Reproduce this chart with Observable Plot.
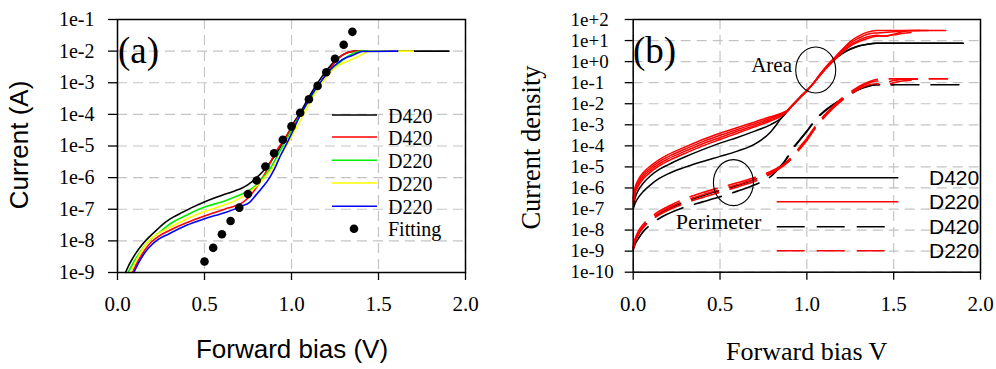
<!DOCTYPE html>
<html>
<head>
<meta charset="utf-8">
<script src="https://cdn.jsdelivr.net/npm/d3@7"></script>
<script src="https://cdn.jsdelivr.net/npm/@observablehq/plot@0.6"></script>
<style>
  body { margin: 0; background: #fff; }
  #wrap { position: relative; width: 996px; height: 369px; overflow: hidden; background: #fff; }
</style>
</head>
<body>
<div id="wrap"></div>
<script>
// ---------------- Tick labels ----------------
const xTickLabels = ["0.0", "0.5", "1.0", "1.5", "2.0"];
const yTickLabelsA = ["1e-9", "1e-8", "1e-7", "1e-6", "1e-5", "1e-4", "1e-3", "1e-2", "1e-1"];
const yTickLabelsB = ["1e-10", "1e-9", "1e-8", "1e-7", "1e-6", "1e-5", "1e-4", "1e-3", "1e-2", "1e-1", "1e+0", "1e+1", "1e+2"];

// ---------------- Panel (a): forward bias (V) vs log10 current (A) ----------------
const aNames = ["D420", "D420", "D220", "D220", "D220"];
const aBlackV = [0.046, 0.07, 0.103, 0.14, 0.18, 0.23, 0.276, 0.32, 0.372, 0.43, 0.496, 0.56, 0.62, 0.68, 0.716, 0.75, 0.774, 0.80, 0.83, 0.86, 0.889, 0.92, 0.95, 0.985, 1.02, 1.05, 1.1, 1.157, 1.214, 1.272, 1.32, 1.36, 1.4, 1.905];
const aBlackLogI = [-9, -8.72, -8.41, -8.13, -7.89, -7.63, -7.41, -7.25, -7.10, -6.94, -6.78, -6.64, -6.52, -6.41, -6.33, -6.22, -6.13, -6.0, -5.84, -5.65, -5.43, -5.18, -4.9, -4.55, -4.2, -3.95, -3.45, -2.95, -2.53, -2.2, -2.05, -2.0, -2.0, -2.0];
const aRedV = [0.086, 0.11, 0.14, 0.18, 0.23, 0.295, 0.4, 0.496, 0.56, 0.62, 0.678, 0.72, 0.755, 0.79, 0.82, 0.85, 0.87, 0.9, 0.95, 1.0, 1.05, 1.1, 1.15, 1.2, 1.25, 1.3, 1.34, 1.38, 1.5];
const aRedLogI = [-9, -8.72, -8.43, -8.12, -7.88, -7.68, -7.42, -7.22, -7.1, -6.99, -6.89, -6.78, -6.62, -6.38, -6.12, -5.85, -5.62, -5.28, -4.86, -4.43, -4.0, -3.57, -3.15, -2.73, -2.35, -2.1, -2.02, -2.0, -2.0];
const aGreenV = [0.061, 0.09, 0.123, 0.16, 0.2, 0.25, 0.295, 0.4, 0.496, 0.56, 0.62, 0.68, 0.736, 0.77, 0.8, 0.83, 0.87, 0.91, 0.95, 1.0, 1.05, 1.1, 1.15, 1.2, 1.25, 1.3, 1.35, 1.4, 1.55];
const aGreenLogI = [-9, -8.7, -8.41, -8.13, -7.91, -7.69, -7.49, -7.18, -6.94, -6.83, -6.73, -6.6, -6.46, -6.35, -6.22, -6.03, -5.78, -5.4, -5.0, -4.5, -4.02, -3.58, -3.17, -2.8, -2.5, -2.25, -2.08, -2.0, -2.0];
const aYellowV = [0.075, 0.1, 0.13, 0.18, 0.23, 0.295, 0.4, 0.496, 0.56, 0.62, 0.68, 0.755, 0.8, 0.83, 0.86, 0.889, 0.92, 0.96, 1.0, 1.05, 1.1, 1.15, 1.2, 1.253, 1.3, 1.33, 1.38, 1.425, 1.46, 1.70];
const aYellowLogI = [-9, -8.7, -8.4, -8.0, -7.78, -7.59, -7.3, -7.08, -6.96, -6.85, -6.72, -6.46, -6.27, -6.1, -5.9, -5.72, -5.45, -5.1, -4.72, -4.2, -3.68, -3.2, -2.82, -2.51, -2.37, -2.30, -2.18, -2.05, -2.0, -2.0];
const aBlueV = [0.094, 0.12, 0.15, 0.18, 0.23, 0.295, 0.4, 0.496, 0.56, 0.62, 0.68, 0.716, 0.755, 0.793, 0.83, 0.87, 0.9, 0.937, 0.97, 1.004, 1.03, 1.06, 1.09, 1.119, 1.16, 1.195, 1.23, 1.272, 1.31, 1.349, 1.38, 1.406, 1.61];
const aBlueLogI = [-9, -8.7, -8.43, -8.22, -7.97, -7.78, -7.5, -7.31, -7.2, -7.10, -6.98, -6.89, -6.8, -6.57, -6.33, -6.04, -5.75, -5.30, -4.95, -4.57, -4.25, -3.93, -3.63, -3.35, -3.03, -2.77, -2.55, -2.35, -2.22, -2.14, -2.06, -2.01, -2.0];
const fitV = [0.5, 0.55, 0.6, 0.65, 0.7, 0.75, 0.8, 0.85, 0.9, 0.95, 1.0, 1.05, 1.1, 1.15, 1.2, 1.25, 1.3, 1.35];
const fitLogI = [-8.65, -8.22, -7.79, -7.37, -6.95, -6.52, -6.09, -5.65, -5.23, -4.80, -4.38, -3.95, -3.52, -3.10, -2.67, -2.24, -1.80, -1.39];

// ---------------- Panel (b): forward bias (V) vs log10 current density ----------------
const bAreaV = [0, 0.01, 0.03, 0.06, 0.1, 0.15, 0.2, 0.3, 0.4, 0.5, 0.6, 0.7, 0.79, 0.85, 0.89, 0.92, 0.96, 1.0, 1.04, 1.08, 1.12, 1.16, 1.2, 1.25, 1.3, 1.35, 1.4];
const bAreaD420aV = bAreaV.concat([1.9]);
const bAreaD420aLog = [-7.0, -6.75, -6.45, -6.15, -5.85, -5.55, -5.33, -5.01, -4.74, -4.5, -4.25, -3.92, -3.35, -2.72, -2.3, -2.05, -1.71, -1.38, -1.01, -0.57, -0.22, 0.1, 0.36, 0.58, 0.74, 0.83, 0.87, 0.87];
const bAreaD420bV = bAreaV.concat([1.9]);
const bAreaD420bLog = [-6.9, -6.5, -6.1, -5.75, -5.42, -5.12, -4.9, -4.52, -4.18, -3.87, -3.6, -3.3, -3.0, -2.7, -2.35, -2.05, -1.71, -1.38, -1.01, -0.57, -0.2, 0.12, 0.38, 0.6, 0.75, 0.83, 0.87, 0.87];
const bAreaD220aV = bAreaV.concat([1.45, 1.8]);
const bAreaD220aLog = [-6.45, -6.0, -5.6, -5.25, -4.95, -4.65, -4.42, -4.05, -3.7, -3.40, -3.13, -2.87, -2.62, -2.46, -2.3, -2.04, -1.7, -1.37, -1.0, -0.55, -0.15, 0.2, 0.55, 0.95, 1.22, 1.4, 1.48, 1.48, 1.48];
const bAreaD220bV = bAreaV.concat([1.45, 1.5, 1.55, 1.6, 1.7]);
const bAreaD220bLog = [-6.55, -6.1, -5.7, -5.35, -5.05, -4.75, -4.52, -4.15, -3.8, -3.5, -3.22, -2.95, -2.69, -2.5, -2.3, -2.04, -1.7, -1.37, -1.0, -0.57, -0.18, 0.16, 0.5, 0.88, 1.12, 1.3, 1.36, 1.38, 1.42, 1.46, 1.48, 1.48];
const bAreaD220cV = bAreaV.concat([1.45, 1.5, 1.55, 1.6, 1.65]);
const bAreaD220cLog = [-6.65, -6.2, -5.8, -5.45, -5.15, -4.85, -4.62, -4.25, -3.9, -3.6, -3.31, -3.03, -2.76, -2.55, -2.32, -2.05, -1.71, -1.38, -1.01, -0.6, -0.22, 0.12, 0.45, 0.8, 1.02, 1.18, 1.25, 1.2, 1.3, 1.42, 1.47, 1.48];
const bAreaD220dV = bAreaV.concat([1.45, 1.5, 1.55, 1.6]);
const bAreaD220dLog = [-6.75, -6.3, -5.9, -5.55, -5.25, -4.95, -4.72, -4.35, -4.0, -3.7, -3.4, -3.1, -2.82, -2.6, -2.34, -2.06, -1.72, -1.39, -1.02, -0.62, -0.25, 0.08, 0.4, 0.74, 0.95, 1.1, 1.2, 1.22, 1.27, 1.33, 1.38];

const bPerV = [0, 0.01, 0.03, 0.06, 0.1, 0.15, 0.2, 0.3, 0.4, 0.5, 0.6, 0.7, 0.8, 0.87, 0.92, 0.96, 1.0, 1.05, 1.1, 1.15, 1.2, 1.25, 1.3, 1.35, 1.4];
const bPerD420aV = bPerV.concat([1.9]);
const bPerD420aLog = [-8.95, -8.7, -8.4, -8.05, -7.75, -7.45, -7.23, -6.9, -6.66, -6.42, -6.15, -5.85, -5.4, -4.75, -4.1, -3.7, -3.3, -2.75, -2.35, -2.05, -1.78, -1.53, -1.3, -1.17, -1.1, -1.1];
const bPerD420bV = bPerV.concat([1.5]);
const bPerD420bLog = [-8.85, -8.55, -8.2, -7.85, -7.52, -7.22, -7.0, -6.65, -6.37, -6.12, -5.88, -5.6, -5.25, -4.78, -4.15, -3.72, -3.32, -2.77, -2.37, -2.06, -1.8, -1.55, -1.32, -1.18, -1.1, -1.1];
const bPerD220aV = bPerV.concat([1.45, 1.81]);
const bPerD220aLog = [-8.8, -8.45, -8.05, -7.7, -7.4, -7.1, -6.88, -6.5, -6.22, -5.98, -5.75, -5.5, -5.18, -4.85, -4.45, -4.05, -3.65, -3.05, -2.55, -2.12, -1.75, -1.45, -1.18, -0.98, -0.85, -0.82, -0.82];
const bPerD220bV = bPerV.concat([1.45, 1.5, 1.55, 1.65]);
const bPerD220bLog = [-8.85, -8.5, -8.12, -7.78, -7.48, -7.18, -6.96, -6.6, -6.32, -6.08, -5.84, -5.58, -5.24, -4.88, -4.5, -4.1, -3.7, -3.1, -2.6, -2.17, -1.8, -1.5, -1.24, -1.04, -0.92, -0.97, -0.9, -0.84, -0.83];
const bPerD220cV = bPerV.concat([1.45, 1.5, 1.55, 1.6]);
const bPerD220cLog = [-8.9, -8.58, -8.2, -7.86, -7.56, -7.28, -7.06, -6.72, -6.45, -6.2, -5.95, -5.68, -5.3, -4.92, -4.55, -4.15, -3.75, -3.15, -2.65, -2.22, -1.86, -1.57, -1.3, -1.12, -1.05, -1.12, -1.0, -0.92, -0.88];

// Annotation anchors (data coordinates: V, log10 J)
const areaNote = [1.054, -0.42];
const perimeterNote = [0.58, -5.77];

// ---------------- helpers ----------------
const SERIF = "'Liberation Serif','Times New Roman',Times,serif";
const SANS = "'Liberation Sans',Arial,Helvetica,sans-serif";
const rows = (id, V, L) => V.map((v, i) => ({id, V: v, Y: 10 ** L[i]}));
const tickVals = labels => labels.map(Number);
const fmtFrom = labels => { const m = new Map(labels.map(s => [Number(s), s])); return d => m.get(d) ?? ""; };

const gridStyle = {stroke: "#c4c4c4", strokeOpacity: 1, strokeWidth: 1.2, strokeDasharray: "10,6"};

// ---------------- Panel (a) plot ----------------
const aSeries = [
  {rows: rows("a1", aBlackV, aBlackLogI), color: "#000000"},
  {rows: rows("a2", aRedV, aRedLogI), color: "#ff0000"},
  {rows: rows("a3", aGreenV, aGreenLogI), color: "#00ee00"},
  {rows: rows("a4", aYellowV, aYellowLogI), color: "#ffff00"},
  {rows: rows("a5", aBlueV, aBlueLogI), color: "#0000ff"}
];
const fitRows = rows("fit", fitV, fitLogI);

const plotA = Plot.plot({
  width: 500, height: 369,
  marginLeft: 117, marginRight: 35, marginTop: 19, marginBottom: 97,
  style: {fontFamily: SERIF, fontSize: "20px", color: "black", background: "transparent", overflow: "visible"},
  x: {domain: [0, 2]},
  y: {type: "log", domain: [1e-9, 1e-1]},
  marks: [
    Plot.gridX(tickVals(xTickLabels), gridStyle),
    Plot.gridY(tickVals(yTickLabelsA), gridStyle),
    Plot.axisX({ticks: tickVals(xTickLabels), tickFormat: fmtFrom(xTickLabels), tickSize: 8, tickPadding: 16, label: null, fontSize: 21, strokeWidth: 1.3}),
    Plot.axisY({ticks: tickVals(yTickLabelsA), tickFormat: fmtFrom(yTickLabelsA), tickSize: 9, tickPadding: 14, label: null, fontSize: 20, strokeWidth: 1.3}),
    ...aSeries.map(s => Plot.line(s.rows, {x: "V", y: "Y", stroke: s.color, strokeWidth: 1.6, curve: "monotone-x"})),
    Plot.dot(fitRows, {x: "V", y: "Y", r: 4.3, fill: "black", stroke: "none"}),
    Plot.frame({stroke: "black", strokeWidth: 1.5})
  ]
});

// ---------------- Panel (b) plot ----------------
const bSolidBlack = [rows("b1", bAreaD420aV, bAreaD420aLog), rows("b2", bAreaD420bV, bAreaD420bLog)];
const bSolidRed = [rows("b3", bAreaD220aV, bAreaD220aLog), rows("b4", bAreaD220bV, bAreaD220bLog), rows("b5", bAreaD220cV, bAreaD220cLog), rows("b6", bAreaD220dV, bAreaD220dLog)];
const bDashBlack = [rows("p1", bPerD420aV, bPerD420aLog), rows("p2", bPerD420bV, bPerD420bLog)];
const bDashRed = [rows("p3", bPerD220aV, bPerD220aLog), rows("p4", bPerD220bV, bPerD220bLog), rows("p5", bPerD220cV, bPerD220cLog)];
const DASH = "28,12";

const plotB = Plot.plot({
  width: 496, height: 369,
  marginLeft: 132.7, marginRight: 16, marginTop: 19, marginBottom: 97.3,
  style: {fontFamily: SERIF, fontSize: "19px", color: "black", background: "transparent", overflow: "visible"},
  x: {domain: [0, 2]},
  y: {type: "log", domain: [1e-10, 1e2]},
  marks: [
    Plot.gridX(tickVals(xTickLabels), gridStyle),
    Plot.gridY(tickVals(yTickLabelsB), gridStyle),
    Plot.axisX({ticks: tickVals(xTickLabels), tickFormat: fmtFrom(xTickLabels), tickSize: 8, tickPadding: 16, label: null, fontSize: 21, strokeWidth: 1.3}),
    Plot.axisY({ticks: tickVals(yTickLabelsB), tickFormat: fmtFrom(yTickLabelsB), tickSize: 8, tickPadding: 54.7, textAnchor: "start", label: null, fontSize: 19, strokeWidth: 1.3}),
    ...bDashBlack.map(r => Plot.line(r, {x: "V", y: "Y", stroke: "#000", strokeWidth: 1.6, strokeDasharray: DASH, curve: "monotone-x"})),
    ...bSolidBlack.map(r => Plot.line(r, {x: "V", y: "Y", stroke: "#000", strokeWidth: 1.5, curve: "monotone-x"})),
    ...bSolidRed.map(r => Plot.line(r, {x: "V", y: "Y", stroke: "#ff0000", strokeWidth: 1.5, curve: "monotone-x"})),
    ...bDashRed.map(r => Plot.line(r, {x: "V", y: "Y", stroke: "#ff0000", strokeWidth: 1.6, strokeDasharray: DASH, curve: "monotone-x"})),
    Plot.frame({stroke: "black", strokeWidth: 1.5})
  ]
});

// ---------------- assemble ----------------
const wrap = document.getElementById("wrap");
plotA.style.position = "absolute"; plotA.style.left = "0px"; plotA.style.top = "0px";
plotB.style.position = "absolute"; plotB.style.left = "500px"; plotB.style.top = "0px";
wrap.appendChild(plotA);
wrap.appendChild(plotB);

const ov = d3.select(wrap).append("svg")
  .attr("width", 996).attr("height", 369)
  .style("position", "absolute").style("left", "0px").style("top", "0px")
  .style("overflow", "visible");

function txt(s, x, y, font, size, anchor = "start", rotate = 0) {
  const t = ov.append("text").text(s)
    .attr("font-family", font).attr("font-size", size).attr("fill", "black")
    .attr("text-anchor", anchor);
  if (rotate) t.attr("transform", `translate(${x},${y}) rotate(${rotate})`);
  else t.attr("x", x).attr("y", y);
  return t;
}

// Axis titles
txt("Current (A)", 28, 145, SANS, 26, "middle", -90);
txt("Forward bias (V)", 292, 358, SANS, 26, "middle");
txt("Current density", 539.5, 147.5, SERIF, 26.5, "middle", -90);
txt("Forward bias V", 806.7, 360, SERIF, 26, "middle");

// Panel tags
txt("(a)", 118, 63, SERIF, 37);
txt("(b)", 633, 63, SERIF, 37);

// Legend (a)
const legA = [
  {label: aNames[0], color: "#000000", y: 115},
  {label: aNames[1], color: "#ff0000", y: 137},
  {label: aNames[2], color: "#00ee00", y: 160.3},
  {label: aNames[3], color: "#ffff00", y: 183},
  {label: aNames[4], color: "#0000ff", y: 206.3}
];
legA.forEach(d => {
  ov.append("line").attr("x1", 332).attr("x2", 377).attr("y1", d.y).attr("y2", d.y)
    .attr("stroke", d.color).attr("stroke-width", 1.6);
  txt(d.label, 388, d.y + 7.5, SERIF, 20);
});
ov.append("circle").attr("cx", 354).attr("cy", 228.7).attr("r", 4.3).attr("fill", "black");
txt("Fitting", 388, 236, SERIF, 20);

// Legend (b)
const legB = [
  {label: "D420", color: "#000", y: 177.7, dash: null, x2: 898.3},
  {label: "D220", color: "#ff0000", y: 201.7, dash: null, x2: 898.3},
  {label: "D420", color: "#000", y: 226.7, dash: DASH, x2: 886.7},
  {label: "D220", color: "#ff0000", y: 250.7, dash: DASH, x2: 886.7}
];
legB.forEach(d => {
  const l = ov.append("line").attr("x1", 776.7).attr("x2", d.x2).attr("y1", d.y).attr("y2", d.y)
    .attr("stroke", d.color).attr("stroke-width", 1.6);
  if (d.dash) l.attr("stroke-dasharray", d.dash);
  txt(d.label, 929, d.y + 7.3, SANS, 21);
});

// Annotations on panel (b), anchored with the plot's own scales
const sx = plotB.scale("x"), sy = plotB.scale("y");
[areaNote, perimeterNote].forEach(p => {
  ov.append("ellipse")
    .attr("cx", 500 + sx.apply(p[0])).attr("cy", sy.apply(10 ** p[1]))
    .attr("rx", 20).attr("ry", 23)
    .attr("fill", "none").attr("stroke", "black").attr("stroke-width", 1.1);
});
txt("Area", 792, 72, SERIF, 21, "end");
txt("Perimeter", 675.7, 229, SERIF, 22);
</script>
</body>
</html>
